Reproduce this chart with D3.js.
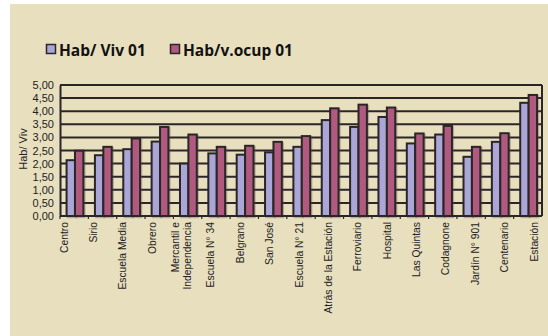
<!DOCTYPE html>
<html><head><meta charset="utf-8">
<script src="https://cdn.jsdelivr.net/npm/d3@7"></script>
<style>body{margin:0;background:#fff}svg{display:block}</style>
</head><body><svg id="c" width="548" height="336"></svg>
<script>
const categories = ["Centro","Sirio","Escuela Media","Obrero","Mercantil e\nIndependencia","Escuela N° 34","Belgrano","San José","Escuela N° 21","Atrás de la Estación","Ferroviario","Hospital","Las Quintas","Codagnone","Jardín N° 901","Centenario","Estación"];
const habViv = [2.13,2.32,2.55,2.84,2.00,2.39,2.34,2.43,2.64,3.66,3.40,3.78,2.77,3.11,2.26,2.83,4.32];
const habOcup = [2.49,2.64,2.96,3.40,3.11,2.64,2.68,2.83,3.05,4.11,4.25,4.14,3.15,3.44,2.64,3.16,4.62];
const seriesNames = ["Hab/ Viv 01","Hab/v.ocup 01"];
const yTicks = [0,0.5,1,1.5,2,2.5,3,3.5,4,4.5,5];
const colors = ["#aaa6d8","#b05a7f"];
const dark = "#2a2526";

const svg = d3.select("#c");
svg.append("rect").attr("x",10).attr("y",4).attr("width",538).attr("height",332).attr("fill","#e8dfbf");

const x = d3.scaleBand().domain(categories).range([60,542]);
const xl = d3.scalePoint().domain(categories).range([64,534]);
const y = d3.scaleLinear().domain([0,5]).range([216,85]);

// gridlines
svg.append("g").selectAll("line").data(yTicks).join("line")
  .attr("x1",60).attr("x2",542).attr("y1",d=>y(d)).attr("y2",d=>y(d))
  .attr("stroke",dark).attr("stroke-width",2);
// right frame
svg.append("line").attr("x1",542).attr("x2",542).attr("y1",y(5)).attr("y2",y(0)).attr("stroke",dark).attr("stroke-width",2);

const bw = 8.4;
const data = [habViv, habOcup];
data.forEach((vals,si)=>{
  const g = svg.append("g");
  // shadow
  g.selectAll("rect.s").data(vals).join("rect").attr("class","s")
    .attr("x",(d,i)=>x(categories[i])+x.bandwidth()/2 - bw + si*bw + 0.8 + 1.2)
    .attr("y",d=>y(d)+1.2).attr("width",bw).attr("height",d=>y(0)-y(d))
    .attr("fill","none").attr("stroke","rgba(90,80,70,0.35)").attr("stroke-width",2);
  g.selectAll("rect.b").data(vals).join("rect").attr("class","b")
    .attr("x",(d,i)=>x(categories[i])+x.bandwidth()/2 - bw + si*bw + 0.8)
    .attr("y",d=>y(d)).attr("width",bw).attr("height",d=>y(0)-y(d))
    .attr("fill",colors[si]).attr("stroke",dark).attr("stroke-width",2);
});

// axes
const yAxis = svg.append("g").attr("transform","translate(60,0)")
  .call(d3.axisLeft(y).tickValues(yTicks).tickSize(0).tickPadding(6).tickFormat(d=>d.toFixed(2).replace(".",",")));
yAxis.select(".domain").attr("stroke",dark).attr("stroke-width",2);
yAxis.selectAll("text").attr("font-family","Liberation Sans, Arial, sans-serif").attr("font-size",11).attr("fill","#222");

svg.append("line").attr("x1",60).attr("x2",542).attr("y1",y(0)).attr("y2",y(0)).attr("stroke",dark).attr("stroke-width",2);
// category boundary ticks
svg.append("g").selectAll("line").data(categories).join("line")
  .attr("x1",d=>x(d)).attr("x2",d=>x(d)).attr("y1",y(0)).attr("y2",y(0)+3)
  .attr("stroke",dark).attr("stroke-width",1.2);

// x labels
const xlab = svg.append("g").attr("font-family","Liberation Sans, Arial, sans-serif").attr("font-size",10.3).attr("fill","#222");
categories.forEach(c=>{
  const lines = c.split("\n");
  const t = xlab.append("text").attr("text-anchor","end")
    .attr("transform",`translate(${xl(c)},222) rotate(-90)`);
  lines.forEach((ln,k)=>{
    t.append("tspan").attr("x",0).attr("y",(k-(lines.length-1)/2)*11.5+3.5).text(ln);
  });
});

// y title
svg.append("text").attr("transform","translate(27,149) rotate(-90)").attr("text-anchor","middle")
  .attr("font-family","Liberation Sans, Arial, sans-serif").attr("font-size",11).attr("fill","#222").text("Hab/ Viv");

// legend
const legX = [46,170];
seriesNames.forEach((n,i)=>{
  svg.append("rect").attr("x",legX[i]+0.5).attr("y",44.5).attr("width",9).attr("height",9)
    .attr("fill",colors[i]).attr("stroke",dark).attr("stroke-width",1.5);
  svg.append("text").attr("x",legX[i]+13).attr("y",56).attr("font-family","Open Sans, sans-serif")
    .attr("font-weight","bold").attr("font-size",15.5).attr("fill","#111").text(n);
});
</script></body></html>
